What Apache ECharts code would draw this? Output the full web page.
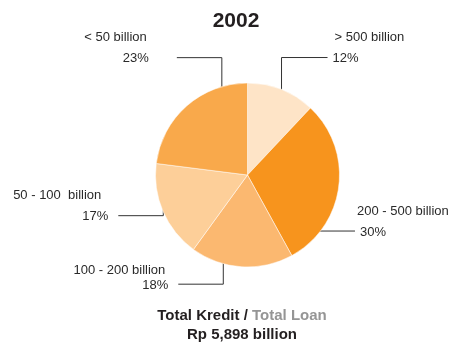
<!DOCTYPE html>
<html>
<head>
<meta charset="utf-8">
<script src="https://cdn.jsdelivr.net/npm/echarts@6/dist/echarts.min.js"></script>
<style>
  html, body { margin: 0; padding: 0; background: #fff; }
  #chart { width: 452px; height: 343px; }
</style>
</head>
<body>
<div id="chart"></div>
<script>
// Loan portfolio by loan size, 2002
const year = '2002';
const categories = ['> 500 billion', '200 - 500 billion', '100 - 200 billion', '50 - 100  billion', '< 50 billion'];
const shares = [12, 30, 18, 17, 23];
const totalLabel = 'Total Kredit / ';
const totalLabelEn = 'Total Loan';
const totalValue = 'Rp 5,898 billion';

const sliceColors = ['#FEE4C7', '#F7941D', '#FBB870', '#FDCF99', '#F9A94B'];

// Pie geometry (pixels)
const CX = 247.5, CY = 175, R = 92;

// Elbow callouts: anchor angle (deg clockwise from 12 o'clock) and radius fraction,
// vertical leg, horizontal leg, gap to the text, distance from name line to percent line,
// and small indents for the name / percent lines
const callouts = [
  { angle: 21.7,  r: 1.0,   rise: -32, run: 46,  pad: 5,  nameGap: 21, namePad: 2, pctPad: 0 },
  { angle: 112.3, r: 0.746, rise: 30,  run: 44,  pad: 2,  nameGap: 21, namePad: 0, pctPad: 3 },
  { angle: 197,   r: 0.90,  rise: 30,  run: -45, pad: 10, nameGap: 15, namePad: 3, pctPad: 0 },
  { angle: 262.1, r: 0.924, rise: 29,  run: -45, pad: 10, nameGap: 21, namePad: 7, pctPad: 0 },
  { angle: 343.8, r: 1.0,   rise: -29, run: -45, pad: 28, nameGap: 21, namePad: 2, pctPad: 0 }
];

const FONT = '"Liberation Sans", Arial, Helvetica, sans-serif';
const TEXT = '#2a2a2a';
const PCT_LH = 20;

const chart = echarts.init(document.getElementById('chart'), null, { renderer: 'canvas' });

const rich = {};
callouts.forEach((c, i) => {
  const right = c.run > 0;
  const side = (v) => right ? [0, 0, 0, v] : [0, v, 0, 0];
  rich['n' + i] = {
    fontSize: 13, fontFamily: FONT, color: TEXT,
    lineHeight: 2 * (c.nameGap - PCT_LH / 2),
    padding: side(c.namePad)
  };
  rich['p' + i] = {
    fontSize: 13, fontFamily: FONT, color: TEXT,
    lineHeight: PCT_LH,
    padding: side(c.pctPad)
  };
});

chart.setOption({
  backgroundColor: '#fff',
  animation: false,
  title: [
    {
      text: year,
      left: 236,
      top: 11,
      textAlign: 'center',
      padding: 0,
      textStyle: { fontSize: 21, fontWeight: 'bold', fontFamily: FONT, color: '#231f20' }
    },
    {
      text: '{a|' + totalLabel + '}{b|' + totalLabelEn + '}\n{c|' + totalValue + '}',
      left: 242,
      top: 306,
      textAlign: 'center',
      padding: 0,
      textStyle: {
        rich: {
          a: { fontSize: 15, fontWeight: 'bold', fontFamily: FONT, color: '#231f20', lineHeight: 19 },
          b: { fontSize: 15, fontWeight: 'bold', fontFamily: FONT, color: '#959595', lineHeight: 19 },
          c: { fontSize: 15, fontWeight: 'bold', fontFamily: FONT, color: '#231f20', lineHeight: 19 }
        }
      }
    }
  ],
  series: [{
    type: 'pie',
    center: [CX, CY],
    radius: [0, R],
    startAngle: 90,
    clockwise: true,
    avoidLabelOverlap: false,
    emphasis: { disabled: true },
    itemStyle: { borderColor: '#fff', borderWidth: 0.5 },
    data: categories.map((name, i) => ({
      name: name,
      value: shares[i],
      itemStyle: { color: sliceColors[i] }
    })),
    label: {
      show: true,
      position: 'outside',
      formatter: p => '{n' + p.dataIndex + '|' + p.name + '}\n{p' + p.dataIndex + '|' + p.value + '%}',
      rich: rich
    },
    labelLine: {
      show: true,
      length: 10,
      length2: 10,
      lineStyle: { color: '#333', width: 1 }
    },
    labelLayout: function (params) {
      const c = callouts[params.dataIndex];
      const a = c.angle * Math.PI / 180;
      const ax = CX + R * c.r * Math.sin(a);
      const ay = CY - R * c.r * Math.cos(a);
      const ey = ay + c.rise;
      const ex = ax + c.run;
      const right = c.run > 0;
      return {
        x: ex + (right ? c.pad : -c.pad),
        y: ey + PCT_LH / 2 + 1,
        align: right ? 'left' : 'right',
        verticalAlign: 'bottom',
        labelLinePoints: [[ax, ay], [ax, ey], [ex, ey]]
      };
    }
  }]
});
</script>
</body>
</html>
